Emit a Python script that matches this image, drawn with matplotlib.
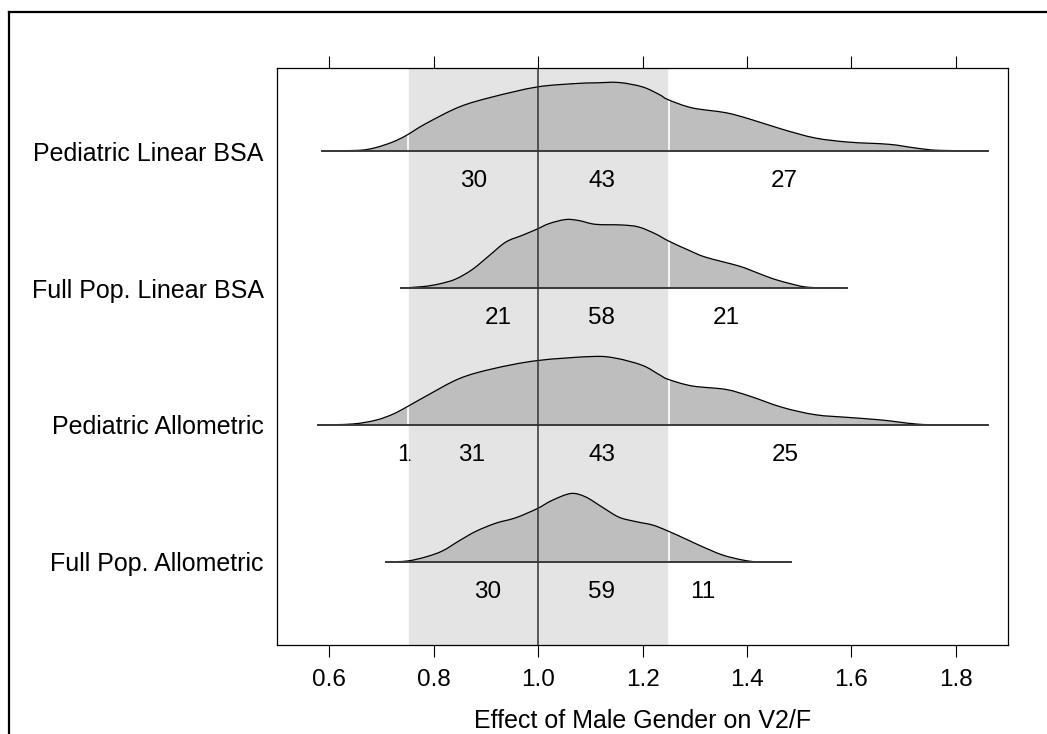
import matplotlib

matplotlib.use("Agg")
import matplotlib.pyplot as plt
from matplotlib.lines import Line2D
from matplotlib.path import Path
from matplotlib.patches import PathPatch

plt.rcParams["font.family"] = ["Liberation Sans", "DejaVu Sans"]

# model names, top to bottom
models = ["Pediatric Linear BSA", "Full Pop. Linear BSA", "Pediatric Allometric", "Full Pop. Allometric"]

# density curves, heights relative to each curve's peak
ped_lin_x = [0.587, 0.657, 0.689, 0.721, 0.747, 0.785, 0.849, 0.913, 0.998, 1.072, 1.110, 1.155,
             1.200, 1.232, 1.249, 1.295, 1.359, 1.404, 1.468, 1.531, 1.595, 1.672, 1.723, 1.767, 1.861]
ped_lin_d = [0.0, 0.01, 0.05, 0.13, 0.225, 0.40, 0.643, 0.79, 0.935, 0.985, 0.995, 1.0,
             0.936, 0.825, 0.75, 0.63, 0.56, 0.47, 0.317, 0.19, 0.13, 0.098, 0.044, 0.01, 0.0]

full_lin_x = [0.737, 0.779, 0.811, 0.842, 0.874, 0.906, 0.938, 0.970, 0.998, 1.021, 1.053, 1.078,
              1.110, 1.161, 1.193, 1.225, 1.249, 1.289, 1.321, 1.385, 1.417, 1.448, 1.480, 1.519, 1.592]
full_lin_d = [0.0, 0.02, 0.06, 0.13, 0.27, 0.47, 0.67, 0.77, 0.86, 0.94, 1.0, 0.985,
              0.93, 0.92, 0.89, 0.79, 0.69, 0.55, 0.45, 0.32, 0.23, 0.14, 0.07, 0.01, 0.0]

ped_allo_x = [0.578, 0.645, 0.689, 0.721, 0.747, 0.785, 0.849, 0.913, 0.998, 1.104, 1.149, 1.200,
              1.232, 1.249, 1.295, 1.359, 1.404, 1.468, 1.531, 1.595, 1.659, 1.723, 1.774, 1.861]
ped_allo_d = [0.0, 0.015, 0.07, 0.155, 0.257, 0.42, 0.677, 0.82, 0.94, 1.0, 0.975, 0.87,
              0.735, 0.667, 0.57, 0.52, 0.425, 0.257, 0.15, 0.11, 0.072, 0.015, 0.0, 0.0]

full_allo_x = [0.709, 0.750, 0.785, 0.817, 0.849, 0.881, 0.919, 0.957, 0.998, 1.027, 1.063, 1.091,
               1.123, 1.155, 1.187, 1.219, 1.247, 1.283, 1.314, 1.353, 1.391, 1.423, 1.484]
full_allo_d = [0.0, 0.015, 0.074, 0.162, 0.31, 0.448, 0.566, 0.645, 0.778, 0.90, 1.0, 0.95,
               0.80, 0.654, 0.59, 0.54, 0.458, 0.335, 0.226, 0.103, 0.03, 0.0, 0.0]

curves_x = [ped_lin_x, full_lin_x, ped_allo_x, full_allo_x]
curves_d = [ped_lin_d, full_lin_d, ped_allo_d, full_allo_d]

# percent of posterior below / inside / above the 0.75-1.25 band
pct_text = [["30", "43", "27"], ["21", "58", "21"], ["1", "31", "43", "25"], ["30", "59", "11"]]
pct_x = [[0.876, 1.122, 1.471], [0.923, 1.122, 1.36], [0.743, 0.872, 1.122, 1.473], [0.904, 1.122, 1.316]]

band = (0.75, 1.25)
xticks = [0.6, 0.8, 1.0, 1.2, 1.4, 1.6, 1.8]


def smooth_path(xs, ys):
    """Cubic bezier path through the points (Catmull-Rom control points)."""
    pts = list(zip(xs, ys))
    verts = [pts[0]]
    codes = [Path.MOVETO]
    for i in range(len(pts) - 1):
        p0 = pts[max(i - 1, 0)]
        p1, p2 = pts[i], pts[i + 1]
        p3 = pts[min(i + 2, len(pts) - 1)]
        c1 = (p1[0] + (p2[0] - p0[0]) / 6, p1[1] + (p2[1] - p0[1]) / 6)
        c2 = (p2[0] - (p3[0] - p1[0]) / 6, p2[1] - (p3[1] - p1[1]) / 6)
        verts += [c1, c2, p2]
        codes += [Path.CURVE4] * 3
    return verts, codes


fig = plt.figure(figsize=(10.47, 7.34), dpi=100)
ax = fig.add_axes([277 / 1047, 1 - 645 / 734, (1008 - 277) / 1047, (645 - 68) / 734])

ax.axvspan(band[0], band[1], color="#e4e4e4", lw=0, zorder=0)

n = len(models)
for i, name in enumerate(models):
    base = n - 1 - i
    xs = curves_x[i]
    ys = [base + 0.5 * d for d in curves_d[i]]
    verts, codes = smooth_path(xs, ys)
    fill_verts = verts + [(xs[-1], base), (xs[0], base), (xs[0], base)]
    fill_codes = codes + [Path.LINETO, Path.LINETO, Path.CLOSEPOLY]
    ax.add_patch(PathPatch(Path(fill_verts, fill_codes), facecolor="#bebebe", lw=0, zorder=1))
    ax.add_patch(PathPatch(Path(verts, codes), facecolor="none", edgecolor="black", lw=0.9, zorder=3))
    ax.plot([xs[0], xs[-1]], [base, base], color="#3a3a3a", lw=1.4, zorder=3)
    for t, tx in zip(pct_text[i], pct_x[i]):
        ax.text(tx, base - 0.22, t, ha="center", va="center", fontsize=17.5,
                zorder=0.5 if tx < band[0] else 5)

for b in band:
    ax.axvline(b, color="white", lw=1.2, zorder=2)
ax.axvline(1.0, color="#333333", lw=1.1, zorder=4)

ax.set_xlim(0.5, 1.9)
ax.set_ylim(-0.606, 3.606)
ax.set_xticks(xticks)
ax.set_xticklabels([f"{v:.1f}" for v in xticks])
ax.set_yticks(range(n - 1, -1, -1))
ax.set_yticklabels(models)
ax.tick_params(axis="x", which="both", top=True, labeltop=False, direction="out",
               length=8.6, width=0.8, labelsize=17.5, pad=9)
ax.tick_params(axis="y", length=0, pad=9.5, labelsize=18)
for s in ax.spines.values():
    s.set_linewidth(0.9)

ax.set_xlabel("Effect of Male Gender on V2/F", fontsize=18, labelpad=13)

# outer frame, only left and top edges fall inside the image
fig.add_artist(Line2D([8.5 / 1047, 8.5 / 1047], [0, 1 - 12 / 734], color="black", lw=1.6))
fig.add_artist(Line2D([8.5 / 1047, 1], [1 - 12 / 734, 1 - 12 / 734], color="black", lw=1.6))

fig.savefig("out.png", dpi=100)
